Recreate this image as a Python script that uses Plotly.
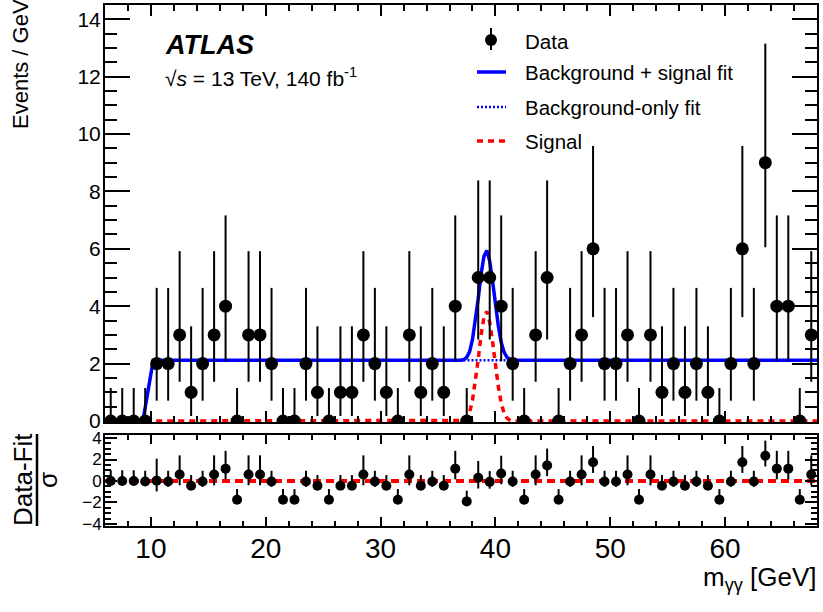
import plotly.graph_objects as go
from plotly.subplots import make_subplots

# ---------------- data ----------------
bin_centers = [6.5 + i for i in range(62)]
counts = [0, 0, 0, 0,
          2, 2, 3, 1, 2, 3, 4, 0, 3, 3,
          2, 0, 0, 2, 1, 0, 1, 1, 3, 2,
          1, 0, 3, 1, 2, 1, 4, 0, 5, 5,
          4, 2, 0, 3, 5, 0, 2, 3, 6, 2,
          2, 3, 0, 3, 1, 2, 1, 2, 1, 0,
          2, 6, 2, 9, 4, 4, 0, 3]
# Poisson (68%) interval half-widths per observed count
poisson_lo = {0: 0.0, 1: 0.827, 2: 1.292, 3: 1.633, 4: 1.914, 5: 2.160, 6: 2.380, 9: 2.945}
poisson_hi = {0: 1.148, 1: 2.300, 2: 2.638, 3: 2.918, 4: 3.163, 5: 3.382, 6: 3.584, 9: 4.150}

# (Data - Fit)/sigma
pulls = [0.0, 0.0, 0.0, -0.05,
         0.03, -0.05, 0.6, -0.45, -0.05, 0.6, 1.15, -1.75, 0.6, 0.6,
         -0.05, -1.75, -1.75, -0.05, -0.45, -1.75, -0.45, -0.45, 0.6, -0.05,
         -0.45, -1.75, 0.6, -0.45, -0.05, -0.45, 1.15, -1.9, 0.3, -0.08,
         0.7, -0.05, -1.75, 0.6, 1.45, -1.75, -0.05, 0.6, 1.75, -0.05,
         -0.05, 0.6, -1.75, 0.6, -0.45, -0.05, -0.45, -0.05, -0.45, -1.75,
         -0.05, 1.75, -0.05, 2.35, 1.15, 1.15, -1.75, 0.6]

# fit curves
bkg_x = [9.3, 10.2, 68.0]
bkg_y = [0.0, 2.12, 2.12]
sig_x = [9.5, 37.0, 37.25, 37.5, 37.75, 38.0, 38.25, 38.5, 38.75, 39.0, 39.25,
         39.5, 39.75, 40.0, 40.25, 40.5, 40.75, 41.0, 41.25, 41.5, 68.0]
sig_y = [0.0, 0.0, 0.02, 0.1, 0.3, 0.72, 1.35, 2.15, 3.0, 3.62, 3.82,
         3.45, 2.75, 1.95, 1.2, 0.62, 0.28, 0.1, 0.03, 0.0, 0.0]

x_ticks = [10, 20, 30, 40, 50, 60]

# ---------------- derived ----------------
err_lo = [poisson_lo[n] for n in counts]
err_hi = [poisson_hi[n] for n in counts]
pull_up, pull_dn = [], []
for p, lo, hi in zip(pulls, err_lo, err_hi):
    if p > 0:
        pull_up.append(hi / lo)
        pull_dn.append(1.0)
    else:
        pull_up.append(1.0)
        pull_dn.append(lo / hi)


def bkg_at(x):
    if x <= bkg_x[0]:
        return 0.0
    for i in range(len(bkg_x) - 1):
        if bkg_x[i] <= x <= bkg_x[i + 1]:
            t = (x - bkg_x[i]) / (bkg_x[i + 1] - bkg_x[i])
            return bkg_y[i] + t * (bkg_y[i + 1] - bkg_y[i])
    return bkg_y[-1]


sb_x = [bkg_x[0], bkg_x[1]] + sig_x[1:]
sb_y = [bkg_at(bkg_x[0]), bkg_at(bkg_x[1])] + [bkg_at(x) + s for x, s in zip(sig_x[1:], sig_y[1:])]

# ---------------- layout geometry ----------------
W, H = 823, 612
L, R, T, B = 105, 6, 5, 86
PW, PH = W - L - R, H - T - B


def pxx(px):
    return (px - L) / PW


def pxy(py):
    return (H - B - py) / PH


FONT = "Liberation Sans, Arial, Helvetica, sans-serif"

fig = make_subplots(rows=2, cols=1, shared_xaxes=False, vertical_spacing=0.0)

# background-only fit (dotted)
fig.add_trace(go.Scatter(x=bkg_x, y=bkg_y, mode="lines",
                         line=dict(color="#0000ff", width=2.5, dash="2px,2px"),
                         name="Background-only fit", showlegend=False), row=1, col=1)
# signal (red dashed)
fig.add_trace(go.Scatter(x=sig_x, y=sig_y, mode="lines",
                         line=dict(color="#ff0000", width=3.5, dash="6px,5px"),
                         name="Signal", showlegend=False), row=1, col=1)
# background + signal fit
fig.add_trace(go.Scatter(x=sb_x, y=sb_y, mode="lines",
                         line=dict(color="#0000ff", width=3.5),
                         name="Background + signal fit", showlegend=False), row=1, col=1)
# data
fig.add_trace(go.Scatter(x=bin_centers, y=counts, mode="markers",
                         marker=dict(color="black", size=13, symbol="circle"),
                         error_y=dict(type="data", symmetric=False, array=err_hi, arrayminus=err_lo,
                                      color="black", thickness=2, width=0),
                         name="Data", showlegend=False), row=1, col=1)

# ratio panel
fig.add_trace(go.Scatter(x=[6, 68], y=[0, 0], mode="lines",
                         line=dict(color="#ff0000", width=4, dash="8px,5px"),
                         showlegend=False), row=2, col=1)
fig.add_trace(go.Scatter(x=bin_centers, y=pulls, mode="markers",
                         marker=dict(color="black", size=10),
                         error_y=dict(type="data", symmetric=False, array=pull_up, arrayminus=pull_dn,
                                      color="black", thickness=2, width=0),
                         showlegend=False), row=2, col=1)

axis_common = dict(showline=True, linecolor="black", linewidth=2, mirror="ticks",
                   ticks="inside", tickcolor="black", tickwidth=1.5, showgrid=False, zeroline=False)

main_bottom = pxy(422)
ratio_top = pxy(435)

fig.update_layout(
    width=W, height=H, margin=dict(l=L, r=R, t=T, b=B, autoexpand=False),
    paper_bgcolor="white", plot_bgcolor="white",
    font=dict(family=FONT, color="black"),
    showlegend=False,
    xaxis=dict(domain=[0, 1], range=[6, 68], anchor="y", matches="x2",
               tickvals=x_ticks, showticklabels=False, ticklen=11,
               minor=dict(dtick=2, ticklen=6, ticks="inside", tickcolor="black", tickwidth=1.5),
               **axis_common),
    yaxis=dict(domain=[main_bottom, 1], range=[-0.035, 14.495], anchor="x",
               tickvals=[0, 2, 4, 6, 8, 10, 12, 14], ticklen=25,
               tickfont=dict(size=21, family=FONT), ticklabelstandoff=-2,
               minor=dict(dtick=0.5, ticklen=12, ticks="inside", tickcolor="black", tickwidth=1.5),
               **axis_common),
    xaxis2=dict(domain=[0, 1], range=[6, 68], anchor="y2",
                tickvals=x_ticks, ticktext=[str(v) for v in x_ticks], ticklen=9,
                tickfont=dict(size=28, family=FONT), ticklabelstandoff=-4,
                minor=dict(dtick=2, ticklen=5, ticks="inside", tickcolor="black", tickwidth=1.5),
                **axis_common),
    yaxis2=dict(domain=[0, ratio_top], range=[-4.19, 4.28], anchor="x2",
                tickvals=[-4, -2, 0, 2, 4], ticktext=["\u22124", "\u22122", "0", "2", "4"], ticklen=12,
                tickfont=dict(size=17, family=FONT), ticklabelstandoff=-2,
                minor=dict(dtick=0.5, ticklen=6, ticks="inside", tickcolor="black", tickwidth=1.5),
                **axis_common),
)

annotations = []
shapes = []

# y-axis title main
annotations.append(dict(xref="paper", yref="paper", x=pxx(20), y=pxy(64), text="Events / GeV",
                        textangle=-90, showarrow=False, xanchor="center", yanchor="middle",
                        font=dict(size=22, family=FONT)))
# ratio y title: fraction
annotations.append(dict(xref="paper", yref="paper", x=pxx(23), y=pxy(480), text="Data-Fit",
                        textangle=-90, showarrow=False, xanchor="center", yanchor="middle",
                        font=dict(size=26, family=FONT)))
annotations.append(dict(xref="paper", yref="paper", x=pxx(48), y=pxy(480), text="\u03c3",
                        textangle=-90, showarrow=False, xanchor="center", yanchor="middle",
                        font=dict(size=26, family=FONT)))
shapes.append(dict(type="line", xref="paper", yref="paper", x0=pxx(37), x1=pxx(37),
                   y0=pxy(434), y1=pxy(526), line=dict(color="black", width=2.5)))
# x title
annotations.append(dict(xref="paper", yref="paper", x=pxx(819), y=pxy(578),
                        text="m<sub>\u03b3\u03b3</sub> [GeV]", showarrow=False,
                        xanchor="right", yanchor="middle", font=dict(size=26, family=FONT)))
# ATLAS label
annotations.append(dict(xref="paper", yref="paper", x=pxx(163), y=pxy(45),
                        text="<b><i>ATLAS</i></b>", showarrow=False,
                        xanchor="left", yanchor="middle", font=dict(size=27, family=FONT)))
annotations.append(dict(xref="paper", yref="paper", x=pxx(163), y=pxy(77),
                        text="\u221a<i>s</i> = 13 TeV, 140 fb<sup>-1</sup>", showarrow=False,
                        xanchor="left", yanchor="middle", font=dict(size=21, family=FONT)))

# legend (manual)
leg_x0, leg_x1, leg_text = 477, 506, 523
leg_rows = [("Data", 41), ("Background + signal fit", 72), ("Background-only fit", 107), ("Signal", 141)]
for label, yy in leg_rows:
    annotations.append(dict(xref="paper", yref="paper", x=pxx(leg_text), y=pxy(yy), text=label,
                            showarrow=False, xanchor="left", yanchor="middle",
                            font=dict(size=20.5, family=FONT)))
# Data symbol
shapes.append(dict(type="line", xref="paper", yref="paper", x0=pxx(491), x1=pxx(491),
                   y0=pxy(28), y1=pxy(50), line=dict(color="black", width=2)))
shapes.append(dict(type="circle", xref="paper", yref="paper", xsizemode="pixel", ysizemode="pixel",
                   xanchor=pxx(491), yanchor=pxy(40), x0=-6, x1=6, y0=-6, y1=6,
                   fillcolor="black", line=dict(color="black", width=0)))
shapes.append(dict(type="line", xref="paper", yref="paper", x0=pxx(leg_x0), x1=pxx(leg_x1),
                   y0=pxy(72), y1=pxy(72), line=dict(color="#0000ff", width=3.5)))
shapes.append(dict(type="line", xref="paper", yref="paper", x0=pxx(leg_x0), x1=pxx(leg_x1),
                   y0=pxy(107), y1=pxy(107), line=dict(color="#0000ff", width=2.5, dash="2px,2px")))
shapes.append(dict(type="line", xref="paper", yref="paper", x0=pxx(leg_x0), x1=pxx(leg_x1),
                   y0=pxy(141), y1=pxy(141), line=dict(color="#ff0000", width=3.5, dash="6px,5px")))

fig.update_layout(annotations=annotations, shapes=shapes)

fig.write_html("out.html", config={"displayModeBar": False},
               post_script="document.body.style.margin='0px';")
